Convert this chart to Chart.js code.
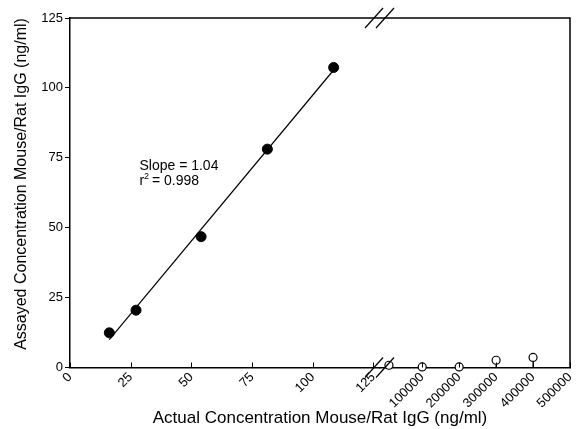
<!DOCTYPE html>
<html><head><meta charset="utf-8">
<script src="https://cdn.jsdelivr.net/npm/chart.js@4"></script>
<style>html,body{margin:0;padding:0;background:#fff}#wrap{width:576px;height:429px}</style>
</head><body><div id="wrap"><canvas id="c" width="576" height="429"></canvas></div>
<script>
const xTitle = 'Actual Concentration Mouse/Rat IgG (ng/ml)';
const yTitle = 'Assayed Concentration Mouse/Rat IgG (ng/ml)';
const yTicks = [0, 25, 50, 75, 100, 125];
const xTicksLow = [0, 25, 50, 75, 100, 125];
const xTicksHigh = [100000, 200000, 300000, 400000, 500000];
const lowX = [16.2, 27.2, 54.0, 81.3, 108.6];
const lowY = [12.4, 20.5, 46.8, 78.1, 107.3];
const fitX = [16.2, 108.6];
const fitY = [10.0, 106.4];
const highX = [10000, 100000, 200000, 300000, 400000];
const highY = [0.8, 0.2, 0.2, 2.6, 3.6];
const slopeText = 'Slope = 1.04';
const r2Parts = ['r', '2', ' = 0.998'];

const FONT = "'Liberation Sans', Arial, Helvetica, sans-serif";
const toPts = (xs, ys) => xs.map((v, i) => ({x: v, y: ys[i]}));

const decor = {
  id: 'decor',
  beforeDatasetsDraw(chart) {
    const ctx = chart.ctx, ys = chart.scales.y;
    const meta = chart.getDatasetMeta(2);
    ctx.save();
    ctx.strokeStyle = '#000'; ctx.lineWidth = 1.2;
    const y0 = ys.getPixelForValue(0);
    meta.data.forEach(el => {
      if (y0 - el.y > 4) {
        ctx.beginPath(); ctx.moveTo(el.x, el.y + 4); ctx.lineTo(el.x, y0); ctx.stroke();
      }
    });
    ctx.restore();
  },
  afterDraw(chart) {
    const ctx = chart.ctx, a = chart.chartArea;
    const xs = chart.scales.x, x2 = chart.scales.x2, ys = chart.scales.y;
    ctx.save();
    ctx.strokeStyle = '#000';
    ctx.lineWidth = 1.5;
    // frame top & right
    ctx.beginPath();
    ctx.moveTo(a.left, a.top); ctx.lineTo(a.right, a.top); ctx.lineTo(a.right, a.bottom);
    ctx.stroke();
    // inward x ticks
    ctx.lineWidth = 1;
    [xs, x2].forEach(s => {
      s.ticks.forEach(t => {
        const px = Math.round(s.getPixelForValue(t.value)) + 0.5;
        ctx.beginPath(); ctx.moveTo(px, a.bottom); ctx.lineTo(px, a.bottom - 5); ctx.stroke();
      });
    });
    // break marks
    const bx = xs.right;
    ctx.lineWidth = 1.2;
    [a.top, a.bottom].forEach(yy => {
      [-5.5, 5.5].forEach(off => {
        ctx.beginPath();
        ctx.moveTo(bx + off - 9, yy + 10);
        ctx.lineTo(bx + off + 9, yy - 10);
        ctx.stroke();
      });
    });
    // annotation
    ctx.fillStyle = '#000';
    ctx.textBaseline = 'alphabetic';
    ctx.textAlign = 'left';
    ctx.font = '14px ' + FONT;
    const ax = xs.getPixelForValue(28.6);
    const ay = ys.getPixelForValue(70.7);
    ctx.fillText(slopeText, ax, ay);
    let cx = ax;
    ctx.fillText(r2Parts[0], cx, ay + 15);
    cx += ctx.measureText(r2Parts[0]).width;
    ctx.font = '9px ' + FONT;
    ctx.fillText(r2Parts[1], cx, ay + 9);
    cx += ctx.measureText(r2Parts[1]).width - 1;
    ctx.font = '14px ' + FONT;
    ctx.fillText(r2Parts[2], cx, ay + 15);
    // axis titles
    ctx.font = '17px ' + FONT;
    ctx.textAlign = 'center';
    ctx.fillText(xTitle, (a.left + a.right) / 2, 423);
    ctx.save();
    ctx.translate(26, 184);
    ctx.rotate(-Math.PI / 2);
    ctx.font = '16px ' + FONT;
    ctx.fillText(yTitle, 0, 0);
    ctx.restore();
    ctx.restore();
  }
};

const tickFont = {family: FONT, size: 13};
const xFit = s => { s.height = 61.5; s.paddingLeft = 0; s.paddingRight = 0; };

new Chart(document.getElementById('c'), {
  type: 'scatter',
  data: {
    datasets: [
      {data: toPts(fitX, fitY), showLine: true, pointRadius: 0, borderColor: '#000', borderWidth: 1.2, xAxisID: 'x', yAxisID: 'y', clip: false},
      {data: toPts(lowX, lowY), pointRadius: 5, backgroundColor: '#000', borderColor: '#000', borderWidth: 1, xAxisID: 'x', yAxisID: 'y', clip: false},
      {data: toPts(highX, highY), pointRadius: 4, backgroundColor: '#fff', borderColor: '#000', borderWidth: 1.2, xAxisID: 'x2', yAxisID: 'y', clip: false}
    ]
  },
  options: {
    responsive: false, animation: false, devicePixelRatio: 1,
    layout: {padding: {left: 0, right: 2, top: 18, bottom: 0}},
    plugins: {legend: {display: false}, tooltip: {enabled: false}},
    scales: {
      x: {
        type: 'linear', position: 'bottom', stack: 'bottom', stackWeight: 312,
        min: 0, max: 127.5,
        afterBuildTicks: s => { s.ticks = xTicksLow.map(v => ({value: v})); },
        afterFit: xFit,
        ticks: {minRotation: 45, maxRotation: 45, font: tickFont, color: '#000', padding: 2, autoSkip: false, callback: v => String(v)},
        grid: {drawOnChartArea: false, drawTicks: false},
        border: {display: true, color: '#000', width: 1.5}
      },
      x2: {
        type: 'linear', position: 'bottom', stack: 'bottom', stackWeight: 192,
        min: -15500, max: 500000,
        afterBuildTicks: s => { s.ticks = xTicksHigh.map(v => ({value: v})); },
        afterFit: xFit,
        ticks: {minRotation: 45, maxRotation: 45, font: tickFont, color: '#000', padding: 2, autoSkip: false, callback: v => String(v)},
        grid: {drawOnChartArea: false, drawTicks: false},
        border: {display: true, color: '#000', width: 1.5}
      },
      y: {
        type: 'linear', position: 'left', min: 0, max: 125,
        afterBuildTicks: s => { s.ticks = yTicks.map(v => ({value: v})); },
        afterFit: s => { s.width = 70; },
        ticks: {font: tickFont, color: '#000', padding: 2, callback: v => String(v)},
        grid: {drawOnChartArea: false, tickLength: 5, color: '#000', lineWidth: 1},
        border: {display: true, color: '#000', width: 1.5}
      }
    }
  },
  plugins: [decor]
});
</script>
</body></html>
